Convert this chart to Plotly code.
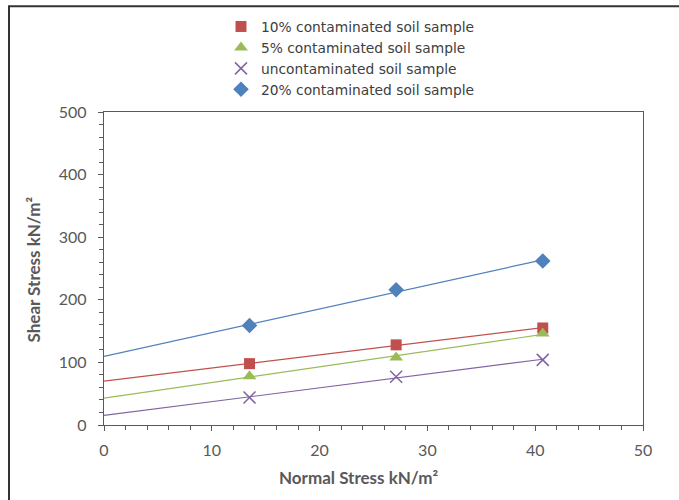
import numpy as np
import plotly.graph_objects as go

normal_stress = [13.5, 27.1, 40.7]
series_names = ["10% contaminated soil sample", "5% contaminated soil sample",
                "uncontaminated soil sample", "20% contaminated soil sample"]
shear_10 = [98, 128, 155]
shear_5 = [78, 108, 146]
shear_0 = [44, 77, 104]
shear_20 = [159, 216, 262]

colors = ["#C0504D", "#9BBB59", "#8064A2", "#4F81BD"]
symbols = ["square", "triangle-up", "x-thin", "diamond"]
sizes = [11, 12, 12, 12]
values = [shear_10, shear_5, shear_0, shear_20]

FONT = "Lato"
fig = go.Figure()
# trendlines (linear least squares fits)
for vals, c in zip(values, colors):
    m, b = np.polyfit(normal_stress, vals, 1)
    xs = [0, max(normal_stress)]
    fig.add_trace(go.Scatter(x=xs, y=[b + m * x for x in xs], mode="lines",
                             line=dict(color=c, width=1.2), showlegend=False,
                             hoverinfo="skip"))
for name, vals, c, s, sz in zip(series_names, values, colors, symbols, sizes):
    marker = dict(color=c, symbol=s, size=sz)
    if s == "x-thin":
        marker["line"] = dict(color=c, width=1.5)
    fig.add_trace(go.Scatter(x=normal_stress, y=vals, mode="markers", name=name,
                             marker=marker))

axis_common = dict(
    showgrid=False, zeroline=False, showline=True, linecolor="#595959", linewidth=1.3,
    mirror=True, ticks="outside", ticklen=5, tickcolor="#595959",
    tickfont=dict(family=FONT, size=16, color="#595959"),
)
fig.update_xaxes(range=[0, 50], dtick=10, **axis_common, ticklabelstandoff=6,
                 minor=dict(dtick=2, ticks="outside", ticklen=4, tickcolor="#595959"))
fig.update_yaxes(range=[0, 500], dtick=100, **axis_common, ticklabelstandoff=8,
                 minor=dict(dtick=20, ticks="outside", ticklen=4, tickcolor="#595959"))

PW, PH = 539, 314
fig.add_annotation(text="<b>Normal Stress kN/m²</b>", xref="paper", yref="paper",
                   x=(359 - 104) / PW, y=(425 - 478) / PH, showarrow=False,
                   xanchor="center", yanchor="middle",
                   font=dict(family=FONT, size=17, color="#595959"))
fig.add_annotation(text="<b>Shear Stress kN/m²</b>", xref="paper", yref="paper",
                   x=(33 - 104) / PW, y=(425 - 269) / PH, showarrow=False, textangle=-90,
                   xanchor="center", yanchor="middle",
                   font=dict(family=FONT, size=17, color="#595959"))

fig.add_shape(type="rect", xref="paper", yref="paper",
              x0=(9 - 104) / PW, x1=2, y0=-1, y1=(425 - 5) / PH,
              line=dict(color="#333333", width=2), layer="below")

fig.update_layout(
    width=679, height=500,
    margin=dict(l=104, r=36, t=111, b=75),
    plot_bgcolor="white", paper_bgcolor="white",
    legend=dict(x=(221 - 104) / PW, y=(425 - 11) / PH, xanchor="left", yanchor="top",
                font=dict(family="DejaVu Sans", size=13.8, color="#404040"),
                tracegroupgap=0, itemwidth=30, bgcolor="rgba(0,0,0,0)"),
)
fig.write_html("out.html", config={"displayModeBar": False},
               post_script="document.body.style.margin='0';")
